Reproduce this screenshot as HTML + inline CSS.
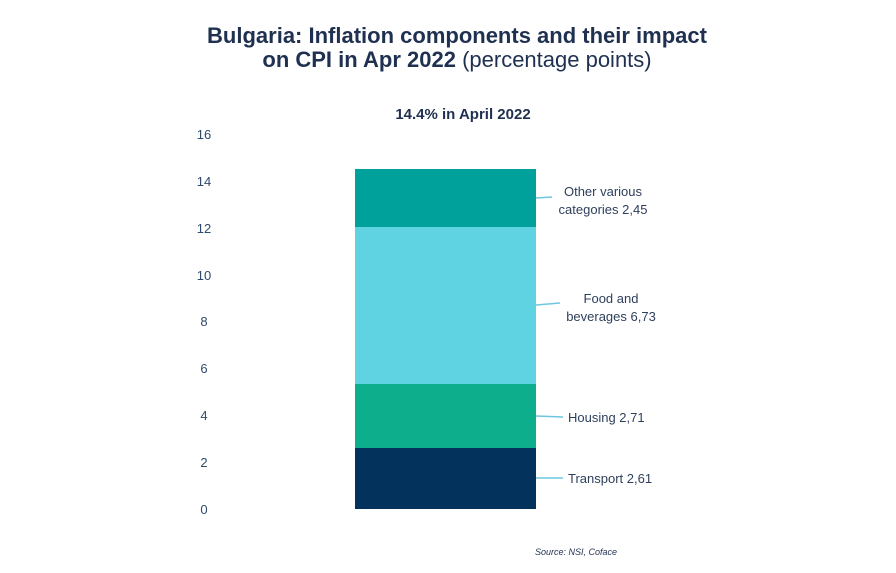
<!DOCTYPE html>
<html><head><meta charset="utf-8"><style>
body{margin:0;background:#fff;}
svg{display:block;font-family:"Liberation Sans",Arial,sans-serif;}
</style></head><body>
<svg width="896" height="573" viewBox="0 0 896 573">
<rect width="896" height="573" fill="#fff"/>
<g fill="#1f3050" text-anchor="middle">
<text x="457" y="43" font-size="22" font-weight="bold">Bulgaria: Inflation components and their impact</text>
<text x="457" y="67" font-size="22"><tspan font-weight="bold">on CPI in Apr 2022</tspan> (percentage points)</text>
<text x="463" y="119" font-size="15" font-weight="bold">14.4% in April 2022</text>
</g>
<g fill="#2e4a6b" font-size="13" text-anchor="middle">
<text x="204" y="139">16</text><text x="204" y="186">14</text><text x="204" y="233">12</text>
<text x="204" y="280">10</text><text x="204" y="326">8</text><text x="204" y="373">6</text>
<text x="204" y="420">4</text><text x="204" y="467">2</text><text x="204" y="514">0</text>
</g>
<rect x="355" y="448" width="181" height="61" fill="#03325c"/>
<rect x="355" y="384" width="181" height="64" fill="#0dae8c"/>
<rect x="355" y="227" width="181" height="157" fill="#60d3e2"/>
<rect x="355" y="169" width="181" height="58" fill="#00a19a"/>
<g stroke="#6fc6e0" stroke-width="1.5">
<line x1="536" y1="198" x2="552" y2="197"/>
<line x1="536" y1="305" x2="560" y2="303"/>
<line x1="536" y1="416" x2="563" y2="417"/>
<line x1="536" y1="478" x2="563" y2="478"/>
</g>
<g fill="#2e3f5c" font-size="13">
<text x="603" y="196" text-anchor="middle">Other various</text>
<text x="603" y="214" text-anchor="middle">categories 2,45</text>
<text x="611" y="303" text-anchor="middle">Food and</text>
<text x="611" y="321" text-anchor="middle">beverages 6,73</text>
<text x="568" y="422">Housing 2,71</text>
<text x="568" y="483">Transport 2,61</text>
</g>
<text x="535" y="555" font-size="9" font-style="italic" fill="#1f3050">Source: NSI, Coface</text>
</svg>
</body></html>
